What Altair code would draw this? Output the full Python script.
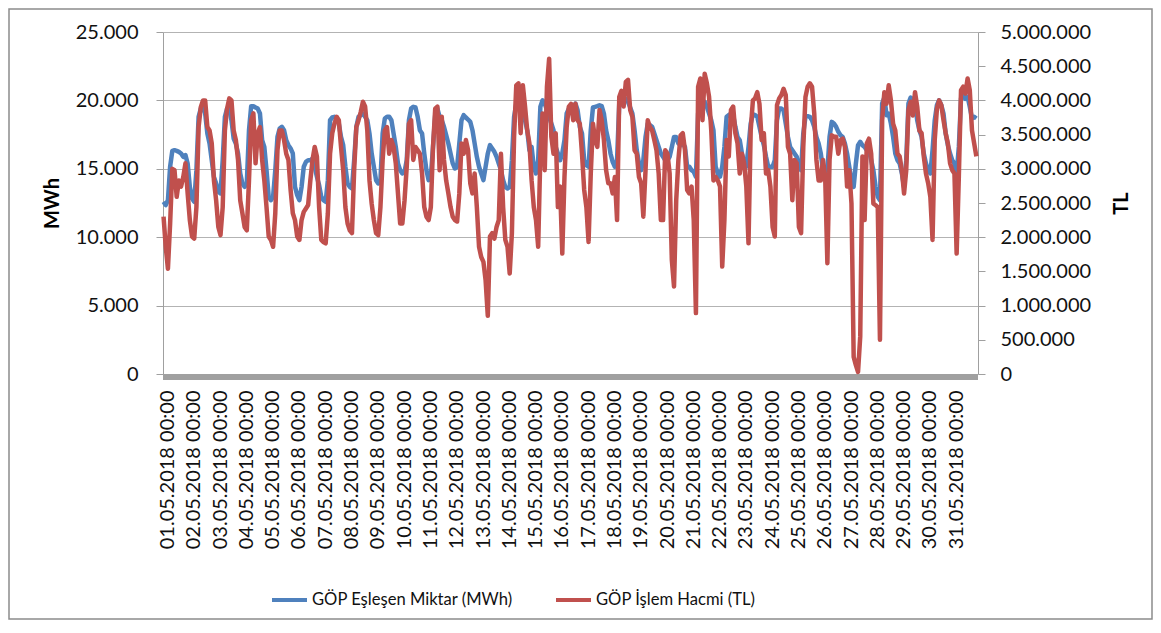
import altair as alt
import pandas as pd

# ---- categories ----
days = [f"2018-05-{d:02d}" for d in range(1, 32)]
hours = [0, 2, 4, 6, 8, 10, 12, 14, 16, 18, 20, 22]
series_names = ["GÖP Eşleşen Miktar (MWh)", "GÖP İşlem Hacmi (TL)"]
series_colors = ["#4F81BD", "#C0504D"]
mwh_ticks = [0, 5000, 10000, 15000, 20000, 25000]
tl_ticks = [0, 500000, 1000000, 1500000, 2000000, 2500000, 3000000,
            3500000, 4000000, 4500000, 5000000]

# ---- GÖP Eşleşen Miktar (MWh), every 2 hours ----
mwh = [
    12590, 12350, 12710, 15150, 16310, 16360, 16310, 16240, 16120, 15880, 16000, 15390,  # 01
    13680, 12830, 12590, 14900, 18800, 19400, 19480, 19040, 17580, 16850, 15630, 14410,  # 02
    13930, 13320, 13200, 15630, 18800, 19400, 19400, 18550, 17210, 16850, 16120, 14660,  # 03
    13930, 13680, 13930, 17820, 19580, 19580, 19480, 19400, 19040, 17090, 16600, 14900,  # 04
    12950, 12710, 12950, 14900, 17330, 17950, 18070, 17820, 17090, 16730, 16490, 16120,  # 05
    13680, 13080, 12710, 13680, 15150, 15510, 15630, 15630, 15750, 15150, 14420, 13810,  # 06
    12950, 12710, 12590, 14170, 18550, 18750, 18800, 18750, 18310, 17330, 16730, 15150,  # 07
    13930, 13680, 13560, 15630, 18070, 18800, 18920, 19040, 18800, 18550, 17580, 16120,  # 08
    15150, 14170, 13930, 14170, 17580, 18680, 18800, 18800, 18550, 17580, 16600, 15390,  # 09
    14900, 14660, 14780, 15630, 18550, 19400, 19530, 19480, 18800, 17820, 17580, 16120,  # 10
    14900, 14170, 14420, 16600, 18920, 19400, 18800, 18550, 18070, 17460, 16850, 16120,  # 11
    15390, 15020, 15150, 16850, 18550, 18920, 18750, 18600, 18430, 17820, 16850, 15880,  # 12
    15150, 14660, 14170, 15150, 16120, 16730, 16490, 16240, 15880, 15390, 14900, 14170,  # 13
    13680, 13560, 13680, 15630, 18800, 19770, 19650, 19400, 19040, 18550, 17820, 16360,  # 14
    16600, 15150, 14660, 15630, 19530, 20010, 19770, 19280, 18800, 18310, 17820, 16600,  # 15
    16120, 15630, 16120, 17090, 19040, 19400, 19480, 19400, 19770, 19280, 18070, 17580,  # 16
    15630, 15270, 15150, 17820, 19480, 19530, 19580, 19650, 19580, 19040, 17820, 17090,  # 17
    16120, 15510, 15150, 15630, 19770, 20140, 20140, 20140, 19890, 19480, 19040, 17820,  # 18
    16360, 15390, 14900, 15630, 17330, 18310, 18190, 18070, 17580, 17090, 16600, 16120,  # 19
    15880, 15630, 15630, 15880, 16600, 17330, 17330, 16850, 16730, 16850, 16600, 15150,  # 20
    15150, 14900, 14780, 14420, 19040, 19890, 20010, 19890, 19530, 19040, 18550, 17820,  # 21
    15150, 14660, 14420, 15150, 16600, 18800, 18920, 19040, 18920, 18070, 17330, 17090,  # 22
    16120, 15390, 15150, 16600, 18310, 18990, 18920, 18800, 18070, 17330, 16730, 15880,  # 23
    15150, 15150, 15150, 15630, 18550, 19400, 19400, 19280, 18310, 17330, 16600, 16360,  # 24
    16120, 15880, 15150, 14900, 17580, 18800, 18850, 18800, 18550, 18070, 17330, 16850,  # 25
    16120, 14900, 14780, 14900, 17330, 18430, 18310, 18070, 17700, 17460, 17330, 16850,  # 26
    16120, 15150, 14170, 13680, 15390, 16730, 16970, 16730, 16600, 16360, 16360, 15630,  # 27
    14900, 13680, 12950, 12710, 19770, 20210, 18920, 19040, 18310, 17330, 16120, 15630,  # 28
    15390, 14660, 13680, 15630, 19770, 20210, 20010, 19770, 18550, 17820, 17330, 16120,  # 29
    15390, 14900, 14660, 16360, 18550, 19650, 20010, 19650, 19040, 17580, 16730, 16120,  # 30
    15630, 15390, 14660, 16600, 20140, 20380, 20110, 20260, 19530, 18680, 18800, 18680,  # 31
]

# ---- GÖP İşlem Hacmi (TL), every 2 hours ----
tl = [
    2300000, 1860000, 1540000, 2200000, 3000000, 2980000, 2590000, 2830000, 2740000, 2880000, 3080000, 2640000,  # 01
    2250000, 2010000, 1980000, 2440000, 3610000, 3900000, 4000000, 4000000, 3610000, 3560000, 3370000, 2830000,  # 02
    2540000, 2150000, 2030000, 2440000, 3560000, 3880000, 4030000, 4000000, 3560000, 3420000, 3130000, 2540000,  # 03
    2350000, 2150000, 2100000, 2830000, 3710000, 3810000, 3080000, 3520000, 3610000, 3130000, 2830000, 2440000,  # 04
    2010000, 1960000, 1860000, 2350000, 3270000, 3560000, 3560000, 3420000, 3220000, 3130000, 2690000, 2350000,  # 05
    2250000, 2010000, 1960000, 2250000, 2370000, 2420000, 2470000, 2830000, 3130000, 3320000, 3180000, 2440000,  # 06
    1960000, 1930000, 1910000, 2350000, 3220000, 3520000, 3660000, 3760000, 3710000, 3320000, 2980000, 2440000,  # 07
    2200000, 2100000, 2060000, 2980000, 3610000, 3710000, 3830000, 3980000, 3910000, 3560000, 2830000, 2490000,  # 08
    2250000, 2060000, 2030000, 2440000, 3130000, 3560000, 3610000, 3220000, 3420000, 3320000, 3080000, 2640000,  # 09
    2200000, 2200000, 2540000, 3030000, 3660000, 3710000, 3130000, 3320000, 3270000, 3220000, 2930000, 2440000,  # 10
    2300000, 2250000, 2440000, 3320000, 3880000, 3910000, 2980000, 3760000, 3130000, 2830000, 2640000, 2440000,  # 11
    2300000, 2250000, 2230000, 2640000, 3370000, 3220000, 3420000, 3270000, 2790000, 2640000, 2930000, 2440000,  # 12
    1860000, 1710000, 1640000, 1370000, 850000, 2010000, 2060000, 1980000, 2150000, 2250000, 3220000, 2440000,  # 13
    1960000, 1860000, 1470000, 2060000, 3470000, 4220000, 4250000, 3520000, 4220000, 3910000, 3560000, 3370000,  # 14
    2830000, 2440000, 2250000, 1860000, 3220000, 3810000, 2980000, 4200000, 4610000, 3470000, 3220000, 3520000,  # 15
    2440000, 2740000, 1760000, 2880000, 3610000, 3910000, 3950000, 3710000, 3950000, 3710000, 3660000, 3220000,  # 16
    2690000, 2440000, 1930000, 2930000, 3660000, 3420000, 3320000, 3860000, 3710000, 3420000, 2980000, 2790000,  # 17
    2790000, 2640000, 2880000, 2250000, 4050000, 4140000, 3910000, 4270000, 4300000, 3860000, 3760000, 3270000,  # 18
    3220000, 2880000, 2790000, 2300000, 2980000, 3710000, 3610000, 3560000, 3420000, 3270000, 2930000, 2250000,  # 19
    2250000, 3270000, 3220000, 2930000, 1670000, 1280000, 2540000, 3130000, 3490000, 3520000, 3270000, 2690000,  # 20
    2640000, 2740000, 2250000, 890000, 4200000, 4320000, 3710000, 4390000, 4250000, 4050000, 3560000, 2830000,  # 21
    2880000, 2830000, 2740000, 1570000, 2250000, 3420000, 3180000, 3860000, 3910000, 3520000, 3370000, 2930000,  # 22
    3220000, 3080000, 2740000, 1910000, 3560000, 4000000, 4030000, 4120000, 3950000, 3420000, 3520000, 2930000,  # 23
    2980000, 2740000, 2150000, 2010000, 3930000, 4030000, 4080000, 4170000, 4080000, 3320000, 3220000, 2540000,  # 24
    3130000, 3080000, 2150000, 2060000, 3320000, 4050000, 4200000, 4250000, 4200000, 3810000, 3130000, 2830000,  # 25
    2830000, 3130000, 2880000, 1620000, 3130000, 3490000, 3470000, 3470000, 3220000, 3420000, 3440000, 3320000,  # 26
    2740000, 2980000, 2490000, 250000, 130000, 30000, 550000, 3180000, 2250000, 3370000, 3440000, 3220000,  # 27
    2490000, 2470000, 2440000, 500000, 3710000, 4120000, 3950000, 4220000, 4000000, 3660000, 3560000, 3220000,  # 28
    3180000, 2980000, 2640000, 2980000, 3860000, 3980000, 3780000, 4120000, 3910000, 3560000, 3520000, 3180000,  # 29
    2930000, 2790000, 2590000, 1960000, 3420000, 3880000, 4000000, 3930000, 3710000, 3520000, 3370000, 3080000,  # 30
    2980000, 2930000, 1760000, 2880000, 4150000, 4200000, 4100000, 4320000, 4150000, 3560000, 3370000, 3180000,  # 31
]

rows = []
i = 0
for d in days:
    for h in hours:
        rows.append({"t": f"{d}T{h:02d}:00:00", "mwh": mwh[i], "tl": tl[i]})
        i += 1
df = pd.DataFrame(rows)

FONT = "Lato"
W, H = 815, 342

x_enc = alt.X(
    "t:T",
    scale=alt.Scale(domain=[alt.DateTime(year=2018, month=4, date=30, hours=23, minutes=30),
                            alt.DateTime(year=2018, month=5, date=31, hours=23, minutes=30)]),
    axis=alt.Axis(
        values=[alt.DateTime(year=2018, month=5, date=d, hours=0) for d in range(1, 32)],
        format="%d.%m.%Y %H:%M", labelAngle=270, labelFont=FONT, labelFontSize=20,
        labelColor="#111111", labelPadding=16, labelOffset=4, labelOverlap=False,
        labelBound=False, labelFlush=False, ticks=False, domain=False, grid=False, title=None,
    ),
)

color_scale = alt.Scale(domain=series_names, range=series_colors)
legend = alt.Legend(
    orient="none", legendX=107, legendY=548, direction="horizontal", title=None,
    symbolType="stroke", symbolSize=1225, symbolStrokeWidth=4, labelFont=FONT,
    labelFontSize=16.6, labelColor="#111111", labelOffset=3, columnPadding=35, padding=0,
    labelLimit=0,
)

blue = alt.Chart(df).transform_calculate(s="'" + series_names[0] + "'").mark_line(
    strokeWidth=4.5, strokeJoin="round"
).encode(
    x=x_enc,
    y=alt.Y("mwh:Q", scale=alt.Scale(domain=[0, 25000], nice=False),
            axis=alt.Axis(orient="left", values=mwh_ticks,
                          labelExpr="replace(format(datum.value, ','), ',', '.')",
                          labelFont=FONT, labelFontSize=20, labelColor="#111111",
                          labelPadding=18, tickSize=7, tickColor="#a0a0a0",
                          domainColor="#a0a0a0", grid=True, gridColor="#b3b3b3",
                          title="MWh", titleFont=FONT, titleFontSize=20,
                          titleFontWeight="bold", titleAngle=270,
                          titleX=-111, titleY=H / 2, titleAlign="center",
                          titleBaseline="middle", titleColor="#000000")),
    color=alt.Color("s:N", scale=color_scale, legend=legend),
)

red = alt.Chart(df).transform_calculate(s="'" + series_names[1] + "'").mark_line(
    strokeWidth=4.5, strokeJoin="round"
).encode(
    x=x_enc,
    y=alt.Y("tl:Q", scale=alt.Scale(domain=[0, 5000000], nice=False),
            axis=alt.Axis(orient="right", values=tl_ticks,
                          labelExpr="replace(replace(format(datum.value, ','), ',', '.'), ',', '.')",
                          labelFont=FONT, labelFontSize=20, labelColor="#111111",
                          labelPadding=15, tickSize=7, tickColor="#a0a0a0",
                          domainColor="#a0a0a0", grid=False,
                          title="TL", titleFont=FONT, titleFontSize=20,
                          titleFontWeight="bold", titleAngle=270,
                          titleX=143, titleY=H / 2, titleAlign="center",
                          titleBaseline="middle", titleColor="#000000")),
    color=alt.Color("s:N", scale=color_scale, legend=legend),
)

one = pd.DataFrame({"k": [0]})
band = alt.Chart(one).mark_rect(color="#a0a0a0").encode(
    x=alt.value(0), x2=alt.value(W), y=alt.value(H), y2=alt.value(H + 6)
)
border = alt.Chart(one).mark_rect(filled=False, stroke="#8c8c8c", strokeWidth=1.5).encode(
    x=alt.value(-154), x2=alt.value(989), y=alt.value(-23), y2=alt.value(587)
)

chart = alt.layer(border, band, blue, red).resolve_scale(y="independent").properties(
    width=W, height=H,
    autosize=alt.AutoSizeParams(type="none"),
    padding={"left": 155, "top": 24, "right": 175, "bottom": 246},
    background="white",
).configure_view(strokeWidth=0)

chart.save("out.html", embed_options={"renderer": "svg", "actions": False})
